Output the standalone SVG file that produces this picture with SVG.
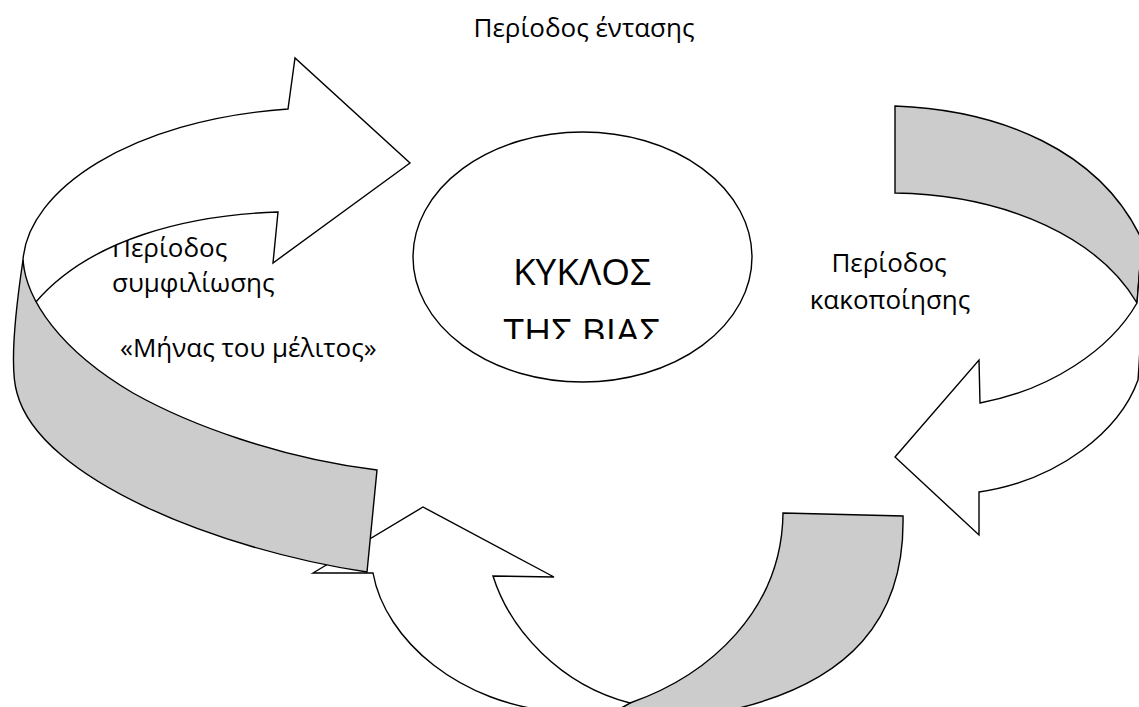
<svg xmlns="http://www.w3.org/2000/svg" width="1139" height="707" viewBox="0 0 1139 707">
<style>
.w{fill:#ffffff;stroke:#000;stroke-width:1.4;stroke-linejoin:miter}
.g{fill:#cccccc;stroke:#000;stroke-width:1.4;stroke-linejoin:miter}
.t{font-family:"Open Sans","Noto Sans","DejaVu Sans",sans-serif;font-size:26px;fill:#000}
.big{font-family:"Open Sans","Noto Sans","DejaVu Sans",sans-serif;font-size:37px;fill:#000}
</style>
<defs>
<clipPath id="clipBia"><rect x="400" y="290" width="360" height="49"/></clipPath>
</defs>
<rect width="1139" height="707" fill="#fff"/>
<g id="label-top"><text class="t" x="584" y="37" text-anchor="middle">Περίοδος έντασης</text></g>
<g id="label-left">
<text class="t" x="112" y="257">Περίοδος</text>
<text class="t" x="112" y="292">συμφιλίωσης</text>
<text class="t" x="120" y="357">«Μήνας του μέλιτος»</text>
</g>
<g id="label-right">
<text class="t" x="889" y="272" text-anchor="middle">Περίοδος</text>
<text class="t" x="890" y="309" text-anchor="middle">κακοποίησης</text>
</g>
<g id="cycle">
<ellipse class="w" cx="582.5" cy="257" rx="169.5" ry="125"/>
<text class="big" x="582" y="285" text-anchor="middle">ΚΥΚΛΟΣ</text>
<text class="big" x="582" y="345" text-anchor="middle" clip-path="url(#clipBia)">ΤΗΣ ΒΙΑΣ</text>
</g>
<g id="connectors">
<g id="arrow-bottom">
<path class="g" d="M783,513 L903,516 C905,610 860,690 700,716 L600,720 L630,703 C710,675 782,610 783,513 Z"/>
<path class="w" d="M313,573 L423,507 L554,577 L493,576 C510,630 560,685 630,703 L600,720 L560,712 C460,705 385,640 373,573 Z"/>
</g>
<g id="arrow-right">
<path class="g" d="M895,106 C1000,110 1100,150 1142,240 L1137,303 C1100,240 1010,195 895,193 Z"/>
<path class="w" d="M1142,240 C1142,280 1142,330 1138,380 C1120,430 1060,480 979,492 L979,535 L895,457 L979,360 L980,403 C1050,390 1110,350 1137,303 Z"/>
</g>
<g id="arrow-left">
<path class="w" d="M23,260 C28,190 130,120 288,109 L295,58 L410,163 L273,263 L278,212 C190,215 90,238 35,303 C28,290 23,275 23,260 Z"/>
<path class="g" d="M23,260 C26,300 60,350 133,393 C190,425 280,458 377,470 L367,572 C220,550 40,480 17,393 C10,370 14,320 23,260 Z"/>
</g>
</g>
</svg>
